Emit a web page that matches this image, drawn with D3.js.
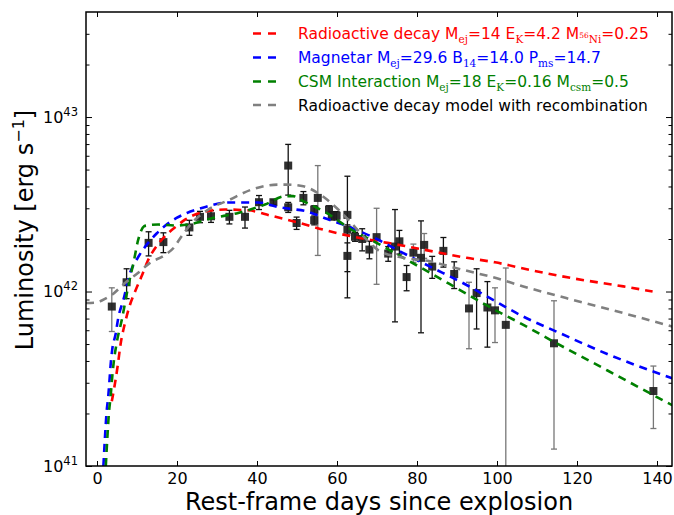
<!DOCTYPE html>
<html><head><meta charset="utf-8">
<script src="https://cdn.jsdelivr.net/npm/d3@7"></script>
<style>body{margin:0;background:#fff}svg{display:block}</style>
</head><body><svg id="c" width="674" height="515"></svg>
<script>
// ---- observed bolometric light curve (L in 1e42 erg/s, symmetric linear errors) ----
const obsDay = [3.7,7.4,12.9,16.6,23.1,25.75,28.5,33.1,37.0,40.5,44.1,47.8,47.8,49.9,51.6,55.2,54.3,54.3,58.0,58.7,59.9,62.6,62.6,62.6,64.5,66.3,68.1,69.9,72.8,74.5,75.6,77.4,79.1,81.0,81.8,83.8,86.6,89.3,93.0,94.9,97.6,99.5,102.2,114.25,139.1];
const obsLum = [0.82,1.13,1.90,1.92,2.33,2.68,2.70,2.68,2.68,3.25,3.25,5.27,3.04,2.47,3.44,3.44,2.95,2.56,2.95,2.72,2.72,2.75,2.26,1.60,2.06,2.00,1.74,2.05,1.65,1.81,1.94,1.21,1.67,1.56,1.85,1.39,1.71,1.26,0.80,0.98,0.81,0.78,0.644,0.505,0.269];
const obsErr = [0.23,0.22,0.30,0.25,0.23,0.20,0.21,0.24,0.37,0.30,0.10,1.70,0.20,0.20,0.30,1.83,0.15,0.15,0.15,0.15,0.15,1.83,0.15,0.30,0.12,0.29,0.20,0.95,0.16,1.14,0.30,0.20,0.20,0.98,0.30,0.20,0.33,0.22,0.33,0.37,0.33,0.27,0.72,0.38,0.105];
const obsSet = ["b","a","a","a","a","a","a","a","a","a","a","a","a","a","a","b","a","a","a","a","a","a","a","a","a","a","a","b","a","a","a","a","b","a","b","a","a","a","b","a","a","b","b","b","b"];

// ---- model curves (L in 1e42 erg/s) ----
const radDay = [3.7,4.5,5.2,5.9,7.0,8.25,9.7,11.2,12.7,14.9,17.4,19.9,22,26.2,32,37.8,43.5,50.75,56.6,63.25,69.9,76.6,83.25,92.4,99.5,108.25,119,131.6,138.9];
const radLum = [0.235,0.298,0.379,0.5,0.66,0.84,1.023,1.23,1.5,1.82,2.12,2.37,2.58,2.84,2.95,2.92,2.72,2.47,2.26,2.08,1.95,1.83,1.71,1.56,1.47,1.33,1.19,1.07,1.00];
const magDay = [1.6,2.0,2.4,2.8,3.1,3.4,3.8,4.7,5.3,6.6,8.25,9.9,12.4,14.9,17.4,19.9,22.5,26.2,32.8,40.3,45.3,48.25,52.4,57.4,63.25,69.9,76.6,83.25,92.4,98.25,106.6,114.9,127.4,143.8];
const magLum = [0.1,0.147,0.204,0.249,0.304,0.379,0.463,0.577,0.703,0.896,1.275,1.52,1.85,2.15,2.42,2.64,2.82,3.01,3.24,3.24,3.05,2.98,2.88,2.61,2.34,2.00,1.66,1.39,1.09,0.916,0.718,0.589,0.44,0.318];
const csmDay = [2.2,2.6,3.0,3.4,3.7,4.1,4.9,6.2,7.8,9.3,10.2,11.8,12.4,15.3,19.5,22.75,28.7,35.3,42,47,49,51.6,57.4,63.25,69.9,76.6,83.25,90.75,98.25,106.6,114.9,127.4,143.8];
const csmLum = [0.1,0.147,0.204,0.249,0.304,0.379,0.505,0.688,1.07,1.53,1.94,2.37,2.39,2.42,2.39,2.42,2.63,2.82,3.15,3.52,3.52,3.29,2.82,2.29,1.90,1.56,1.28,1.02,0.813,0.644,0.505,0.355,0.223];
const recDay = [-2.75,0,1.2,3.7,7,10.3,13.25,17,19.5,20.3,23.7,27.8,32.8,38.7,45.3,47.4,51.6,55.75,59.9,63.25,66.6,70.75,76.6,83.25,89.9,94.5,98.25,106.6,119,131.6,143.8];
const recLum = [0.86,0.865,0.888,0.957,1.12,1.28,1.46,1.62,1.82,1.94,2.47,2.95,3.33,3.84,4.10,4.10,4.01,3.60,3.01,2.52,2.07,1.70,1.56,1.49,1.36,1.28,1.22,1.07,0.895,0.752,0.63];

// ---- axes ----
const xTicks = [0,20,40,60,80,100,120,140];
const yMajor = [1e41,1e42,1e43];
const yMajorExp = ["41","42","43"];
const yMinor = [2e41,3e41,4e41,5e41,6e41,7e41,8e41,9e41,2e42,3e42,4e42,5e42,6e42,7e42,8e42,9e42,2e43,3e43];

// ---- legend ----
const legendColors = ["#ff0000","#0000ff","#008000","#808080"];
const legendParts = [
  [["Radioactive decay M",""],["ej","sub"],["=14 E",""],["K","sub"],["=4.2 M",""],["56","sup2"],["Ni","sub"],["=0.25",""]],
  [["Magnetar M",""],["ej","sub"],["=29.6 B",""],["14","sub"],["=14.0 P",""],["ms","sub"],["=14.7",""]],
  [["CSM Interaction M",""],["ej","sub"],["=18 E",""],["K","sub"],["=0.16 M",""],["csm","sub"],["=0.5",""]],
  [["Radioactive decay model with recombination",""]]
];
const legendTextColors = ["#ff0000","#0000ff","#008000","#000000"];

const svg = d3.select("#c");
const L = 86, R = 672, T = 12, B = 466;
const x = d3.scaleLinear().domain([-2.75, 143.75]).range([L, R]);
const y = d3.scaleLog().domain([1e41, 4e43]).range([B, T]);
const E42 = 1e42;

svg.append("defs").append("clipPath").attr("id","clip")
  .append("rect").attr("x",L).attr("y",T).attr("width",R-L).attr("height",B-T);

const plot = svg.append("g").attr("clip-path","url(#clip)");

// data: error bars
const obs = obsDay.map((d,i)=>({d, l:obsLum[i]*E42, e:obsErr[i]*E42, s:obsSet[i]}));
const eb = plot.append("g");
obs.forEach(o=>{
  const col = o.s==="a" ? "#111" : "#777";
  const lo = Math.max(o.l - o.e, 1e40);
  const hi = o.l + o.e;
  const cx = x(o.d);
  eb.append("line").attr("x1",cx).attr("x2",cx).attr("y1",y(hi)).attr("y2",y(lo))
    .attr("stroke",col).attr("stroke-width",1.3);
  eb.append("line").attr("x1",cx-3).attr("x2",cx+3).attr("y1",y(hi)).attr("y2",y(hi))
    .attr("stroke",col).attr("stroke-width",1.3);
  if (o.l - o.e > 0) eb.append("line").attr("x1",cx-3).attr("x2",cx+3).attr("y1",y(lo)).attr("y2",y(lo))
    .attr("stroke",col).attr("stroke-width",1.3);
});
plot.append("g").selectAll("rect").data(obs).join("rect")
  .attr("x",o=>x(o.d)-4).attr("y",o=>y(o.l)-4).attr("width",8).attr("height",8)
  .attr("fill","#1e1e1e").attr("fill-opacity",0.92);

// model curves
const line = d3.line().x(p=>x(p[0])).y(p=>y(p[1]*E42)).curve(d3.curveMonotoneX);
const models = [[radDay,radLum],[magDay,magLum],[csmDay,csmLum],[recDay,recLum]];
models.forEach((m,i)=>{
  plot.append("path").datum(m[0].map((d,j)=>[d,m[1][j]]))
    .attr("d",line).attr("fill","none").attr("stroke",legendColors[i])
    .attr("stroke-width",2.6).attr("stroke-dasharray","8,6");
});

// axes
const fnt = "'DejaVu Sans', sans-serif";
const ax = svg.append("g").attr("transform",`translate(0,${B})`)
  .call(d3.axisBottom(x).tickValues(xTicks).tickSize(-5).tickPadding(7).tickFormat(d3.format("d")));
svg.append("g").attr("transform",`translate(0,${T})`)
  .call(d3.axisTop(x).tickValues(xTicks).tickSize(-5).tickFormat(""));
svg.append("g").attr("transform",`translate(${L},0)`)
  .call(d3.axisLeft(y).tickValues(yMajor).tickSize(-6).tickFormat(""));
svg.append("g").attr("transform",`translate(${L},0)`)
  .call(d3.axisLeft(y).tickValues(yMinor).tickSize(-3.5).tickFormat(""));
svg.append("g").attr("transform",`translate(${R},0)`)
  .call(d3.axisRight(y).tickValues(yMajor).tickSize(-6).tickFormat(""));
svg.append("g").attr("transform",`translate(${R},0)`)
  .call(d3.axisRight(y).tickValues(yMinor).tickSize(-3.5).tickFormat(""));
svg.selectAll(".domain").remove();
svg.selectAll(".tick line").attr("stroke","#000").attr("stroke-width",1);
ax.selectAll("text").attr("font-family",fnt).attr("font-size",16).attr("fill","#000");

// y labels with superscripts
yMajor.forEach((v,i)=>{
  const t = svg.append("text").attr("x",78).attr("y",y(v)+5.5).attr("text-anchor","end")
    .attr("font-family",fnt).attr("font-size",16).attr("fill","#000");
  t.append("tspan").text("10");
  t.append("tspan").attr("dy",-7).attr("font-size",11.5).text(yMajorExp[i]);
});

// frame
svg.append("rect").attr("x",L).attr("y",T).attr("width",R-L).attr("height",B-T)
  .attr("fill","none").attr("stroke","#000").attr("stroke-width",1.5);

// axis titles
svg.append("text").attr("x",(L+R)/2).attr("y",510).attr("text-anchor","middle")
  .attr("font-family",fnt).attr("font-size",24).text("Rest-frame days since explosion");
const yl = svg.append("text").attr("transform","translate(33,230) rotate(-90)").attr("text-anchor","middle")
  .attr("font-family",fnt).attr("font-size",24);
yl.append("tspan").text("Luminosity [erg s");
yl.append("tspan").attr("dy",-9).attr("font-size",16).text("\u22121");
yl.append("tspan").attr("dy",9).text("]");

// legend
const rowY = [33.5, 57.5, 81.5, 105];
legendParts.forEach((parts,i)=>{
  svg.append("line").attr("x1",253).attr("x2",277).attr("y1",rowY[i]).attr("y2",rowY[i])
    .attr("stroke",legendColors[i]).attr("stroke-width",2.6).attr("stroke-dasharray","8,7");
  const t = svg.append("text").attr("x",298).attr("y",rowY[i]+5.8)
    .attr("font-family",fnt).attr("font-size",15.5).attr("fill",legendTextColors[i]);
  let shift = 0;
  parts.forEach(p=>{
    const ts = t.append("tspan").text(p[0]);
    let target = 0, fam = fnt, fs = 15.5;
    if (p[1]==="sub"){ target = 4; fam = "'DejaVu Serif', serif"; fs = 10.5; }
    if (p[1]==="sup2"){ target = -1; fam = "'DejaVu Serif', serif"; fs = 7.5; }
    ts.attr("dy", target - shift).attr("font-size",fs).attr("font-family",fam);
    shift = target;
  });
});
</script></body></html>
